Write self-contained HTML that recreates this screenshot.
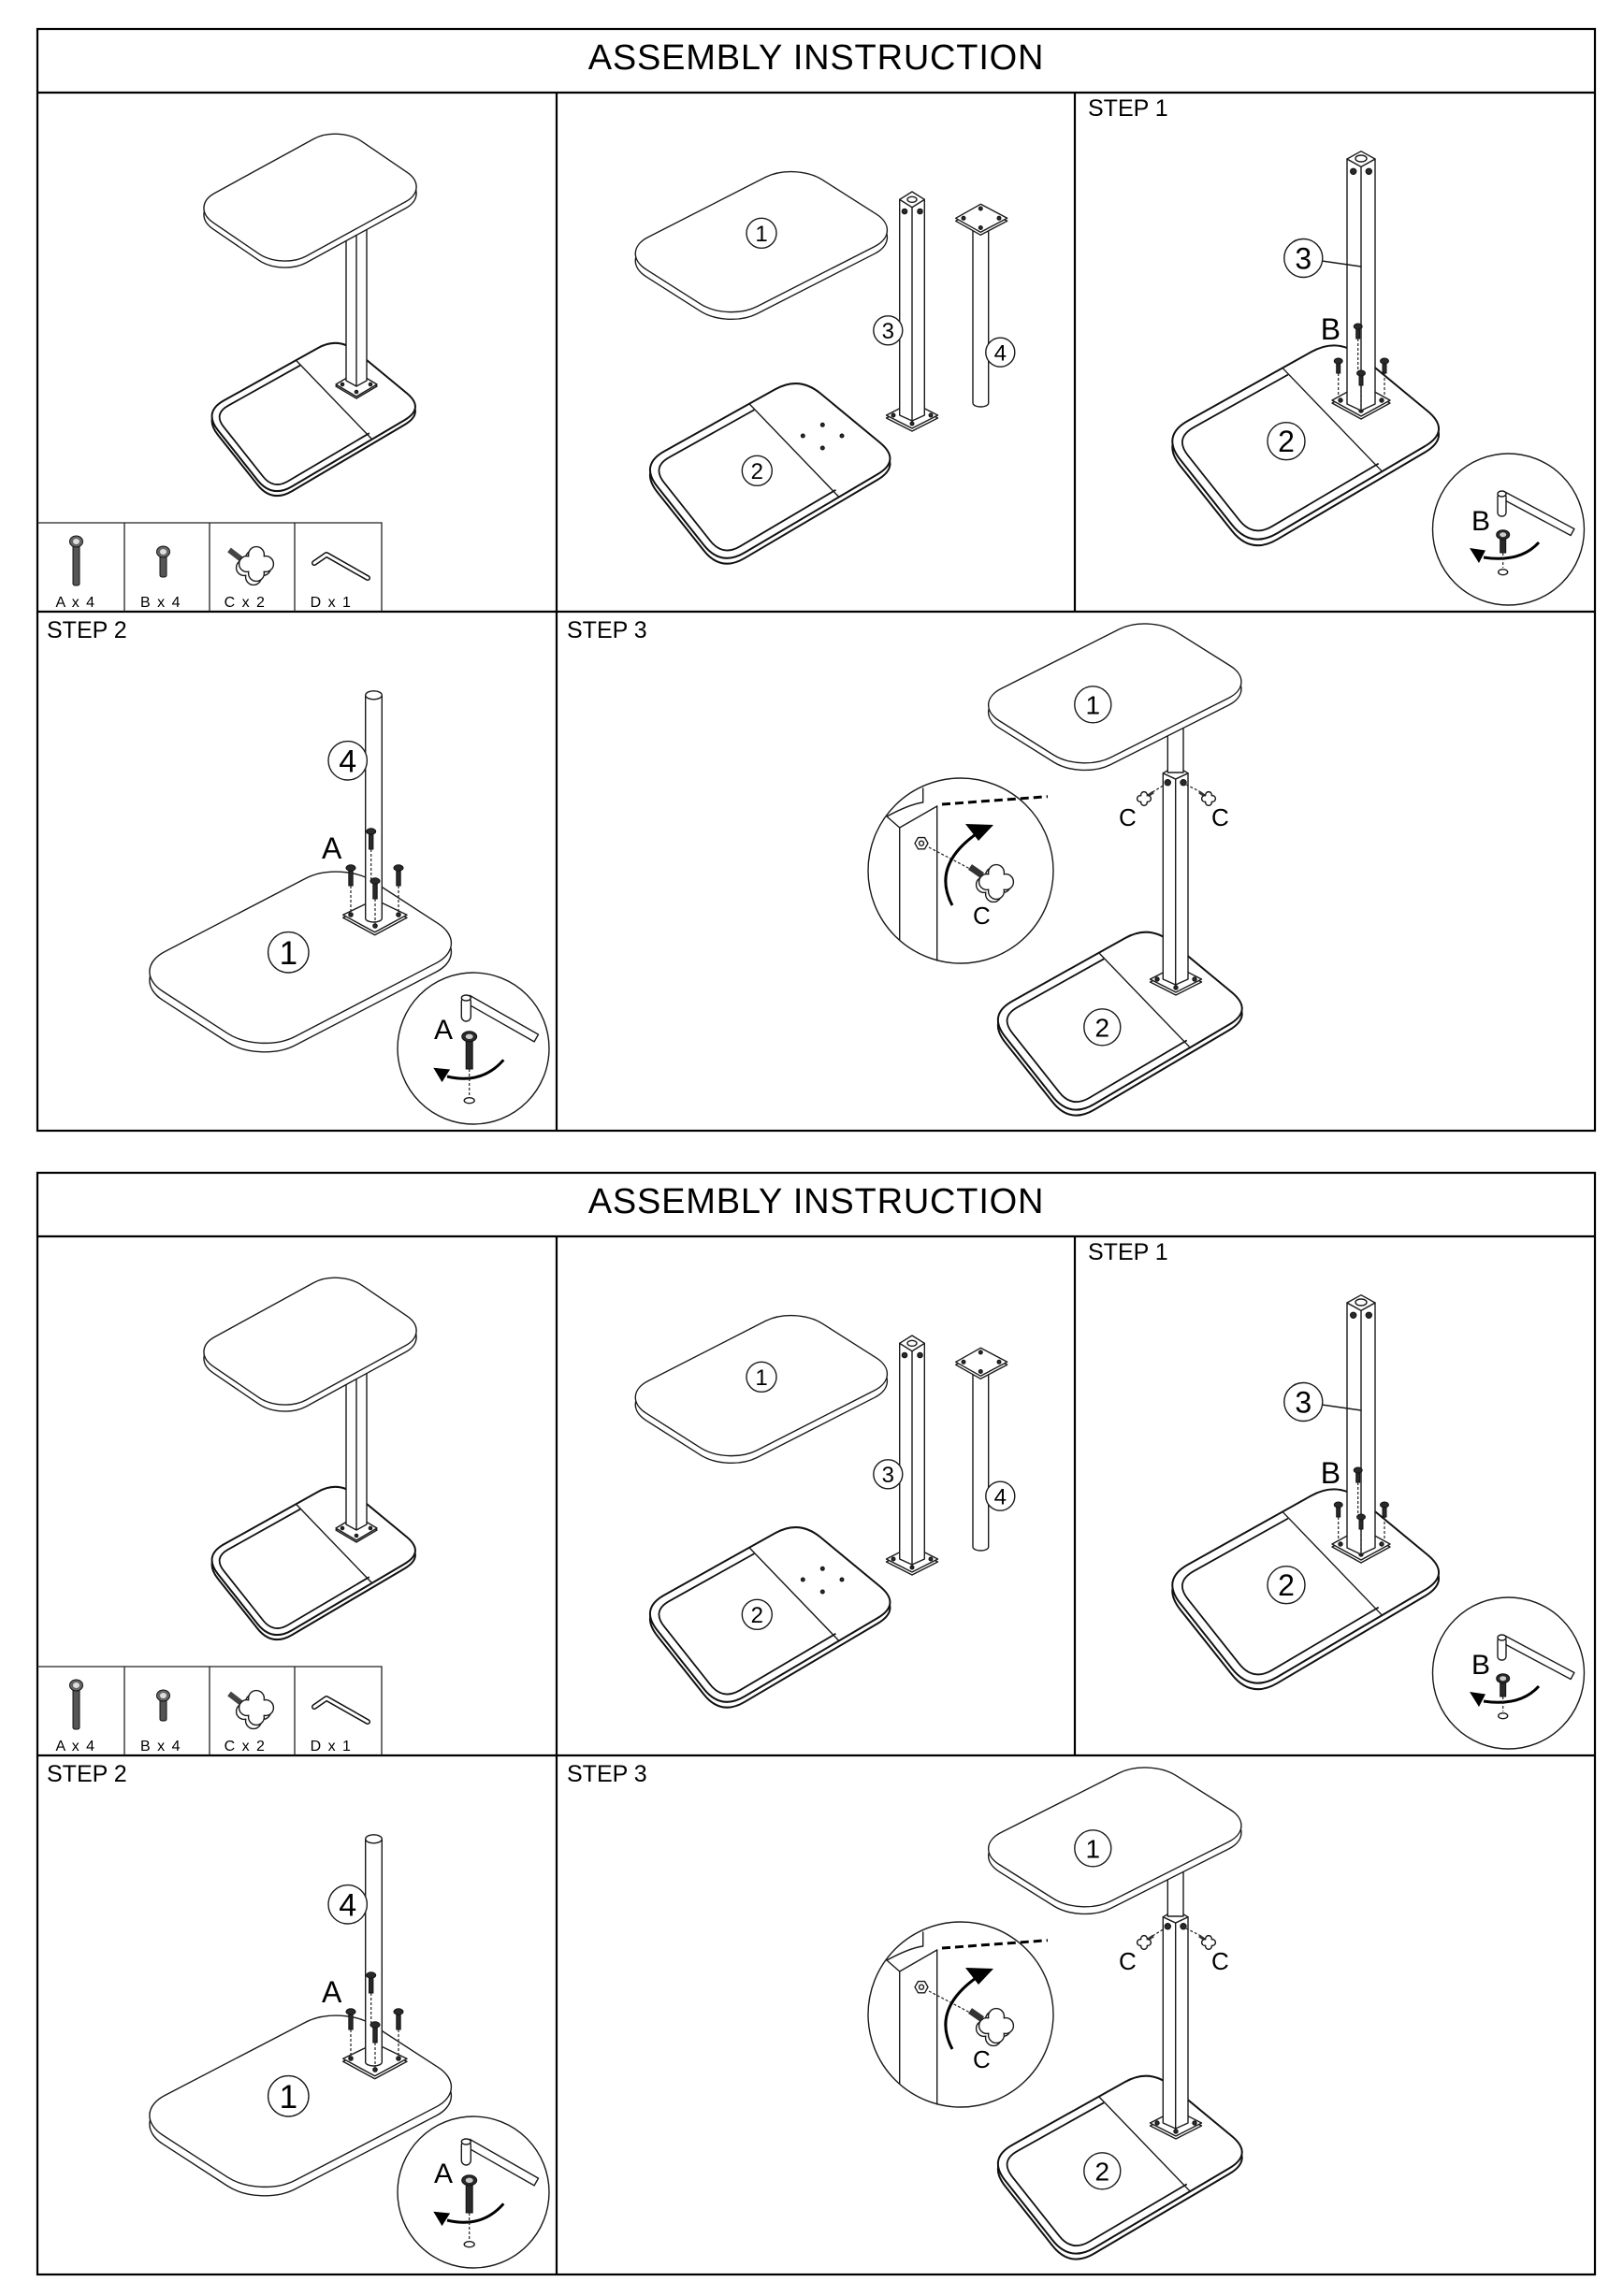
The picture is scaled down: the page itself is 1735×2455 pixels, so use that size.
<!DOCTYPE html>
<html><head><meta charset="utf-8"><style>
html,body{margin:0;padding:0;background:#fff;}
svg{display:block;}
.l{fill:none;stroke:#1a1a1a;stroke-width:1.4;vector-effect:non-scaling-stroke;stroke-linejoin:round;stroke-linecap:round}
.w{fill:#fff;stroke:#1a1a1a;stroke-width:1.4;vector-effect:non-scaling-stroke;stroke-linejoin:round}
.b{fill:#fff;stroke:#111;stroke-width:2;vector-effect:non-scaling-stroke;stroke-linejoin:round}
.bl{fill:none;stroke:#111;stroke-width:1.8;vector-effect:non-scaling-stroke}
.k{fill:#2a2a2a;stroke:#111;stroke-width:1}
.d{fill:none;stroke:#222;stroke-width:1.2;stroke-dasharray:3 2}
.f{fill:none;stroke:#000;stroke-width:2.2}
.t{fill:none;stroke:#222;stroke-width:1.3}
.ar{fill:none;stroke:#000;stroke-width:3}
text{font-family:"Liberation Sans",Arial,sans-serif;fill:#000}
</style></head><body>
<svg width="1735" height="2455" viewBox="0 0 1735 2455" xmlns="http://www.w3.org/2000/svg">
<defs>
<g id="top">
 <rect class="w" vector-effect="non-scaling-stroke" width="181" height="119" rx="30" transform="translate(0,7) matrix(0.877,-0.48,0.826,0.564,203,221)"/>
 <rect class="w" vector-effect="non-scaling-stroke" width="181" height="119" rx="30" transform="matrix(0.877,-0.48,0.826,0.564,203,221)"/>
</g>
<g id="base">
 <path class="b" vector-effect="non-scaling-stroke" transform="translate(0,5)" d="M239.3,428.3L339.9,372.1Q361.7,359.9 381,375.9L434.8,420.4Q454.1,436.4 432.6,449.1L312.2,520.1Q290.7,532.8 275.2,513.2L233,460.1Q217.5,440.5 239.3,428.3Z"/>
 <path class="b" vector-effect="non-scaling-stroke" d="M239.3,428.3L339.9,372.1Q361.7,359.9 381,375.9L434.8,420.4Q454.1,436.4 432.6,449.1L312.2,520.1Q290.7,532.8 275.2,513.2L233,460.1Q217.5,440.5 239.3,428.3Z"/>
 <path class="bl" vector-effect="non-scaling-stroke" d="M320.9,390.7L243.8,433.8Q228.1,442.6 239.3,456.7L281.2,509.5Q292.4,523.6 307.9,514.5L394.8,463.2"/>
 <path class="l" vector-effect="non-scaling-stroke" d="M316.7,385.5L397,469"/>
</g>
<path id="clv" class="w" vector-effect="non-scaling-stroke" d="M0.41,-0.41A0.42,0.42 0 1 1 0.41,0.41A0.42,0.42 0 1 1 -0.41,0.41A0.42,0.42 0 1 1 -0.41,-0.41A0.42,0.42 0 1 1 0.41,-0.41Z"/>
<g id="sb"><rect x="-2" y="0" width="4" height="13" class="k"/><ellipse cx="0" cy="0" rx="4.5" ry="3" class="k"/></g>
<g id="sa"><rect x="-2.2" y="0" width="4.4" height="19" class="k"/><ellipse cx="0" cy="0" rx="5" ry="3.2" class="k"/></g>
</defs>

<g id="p">
 <!-- frame -->
 <rect x="40" y="31" width="1665" height="1178" class="f"/>
 <line x1="40" y1="99" x2="1705" y2="99" class="f"/>
 <line x1="40" y1="654" x2="1705" y2="654" class="f"/>
 <line x1="595" y1="99" x2="595" y2="1209" class="f"/>
 <line x1="1149" y1="99" x2="1149" y2="654" class="f"/>
 <!-- parts table -->
 <path class="t" d="M40,559H408V654M133,559V654M224,559V654M315,559V654"/>
 <rect x="78" y="583" width="7" height="43" rx="2" fill="#555" stroke="#111" stroke-width="1"/>
 <ellipse cx="81.5" cy="579" rx="7" ry="6" fill="#666" stroke="#111" stroke-width="1"/>
 <ellipse cx="81.5" cy="579" rx="3.5" ry="3" fill="#ddd"/>
 <rect x="171" y="593" width="7" height="24" rx="2" fill="#555" stroke="#111" stroke-width="1"/>
 <ellipse cx="174.5" cy="590" rx="7" ry="6" fill="#666" stroke="#111" stroke-width="1"/>
 <ellipse cx="174.5" cy="590" rx="3.5" ry="3" fill="#ddd"/>
 <line x1="245" y1="588" x2="258" y2="598" stroke="#444" stroke-width="6"/>
 <use href="#clv" transform="translate(271,607) scale(20)"/>
 <use href="#clv" transform="translate(274,603) scale(20)"/>
 <path d="M336,602L349,593L393,618" fill="none" stroke="#111" stroke-width="6" stroke-linecap="round" stroke-linejoin="round"/>
 <path d="M336,602L349,593L393,618" fill="none" stroke="#fff" stroke-width="3" stroke-linecap="round" stroke-linejoin="round"/>

 <!-- cell 1 assembled -->
 <use href="#base"/>
 <path class="w" d="M359,413L381,400L403,413L381,426Z"/>
 <path class="w" d="M359,411L381,398L403,411L381,424Z"/>
 <circle cx="366" cy="411" r="1.8" class="k"/><circle cx="396" cy="411" r="1.8" class="k"/><circle cx="381" cy="419" r="1.8" class="k"/>
 <path class="w" d="M370,232V407L381,413L392,407V232Z"/>
 <line x1="381" y1="232" x2="381" y2="413" class="l"/>
 <use href="#top"/>

 <!-- cell 2 parts -->
 <use href="#base" transform="translate(427.6,-22.8) scale(1.18)"/>
 <circle cx="879.3" cy="454.3" r="2" class="k"/><circle cx="858.3" cy="466" r="2" class="k"/><circle cx="900" cy="466" r="2" class="k"/><circle cx="879.3" cy="479" r="2" class="k"/>
 <use href="#top" transform="translate(421,25.3) scale(1.185,1.105)"/>
 <path class="w" d="M947.5,447L975,433L1002.5,447L975,461Z"/>
 <path class="w" d="M947.5,444L975,430L1002.5,444L975,458Z"/>
 <circle cx="955" cy="444" r="2" class="k"/><circle cx="995" cy="444" r="2" class="k"/><circle cx="975" cy="453" r="2" class="k"/>
 <path class="w" d="M961.7,213.3V444L975,450L988.3,444V213.3L975,221.7Z"/>
 <line x1="975" y1="221.7" x2="975" y2="450" class="l"/>
 <path class="w" d="M961.7,213.3L975,205L988.3,213.3L975,221.7Z"/>
 <ellipse cx="975" cy="213.3" rx="5" ry="3" class="w"/>
 <circle cx="967" cy="226" r="2.8" class="k"/><circle cx="983.5" cy="226" r="2.8" class="k"/>
 <path class="w" d="M1040,240V431A8.35,4 0 0 0 1056.7,431V240Z"/>
 <path class="w" d="M1021.7,236.3L1048.3,221.3L1076.7,236.3L1048.3,251.3Z"/>
 <path class="w" d="M1021.7,233.3L1048.3,218.3L1076.7,233.3L1048.3,248.3Z"/>
 <circle cx="1030" cy="233.3" r="2" class="k"/><circle cx="1068" cy="233.3" r="2" class="k"/><circle cx="1048.3" cy="223" r="2" class="k"/><circle cx="1048.3" cy="243.5" r="2" class="k"/>
 <circle cx="814" cy="249.3" r="16" class="w"/>
 <circle cx="809.3" cy="503.3" r="16" class="w"/>
 <circle cx="949.3" cy="353.3" r="15.5" class="w"/>
 <circle cx="1069.3" cy="376.7" r="15.5" class="w"/>

 <!-- cell 3 step 1 -->
 <use href="#base" transform="translate(956.5,-111.2) scale(1.31)"/>
 <path class="w" d="M1424,431L1455,414L1486,431L1455,448Z"/>
 <path class="w" d="M1424,428L1455,411L1486,428L1455,445Z"/>
 <circle cx="1433" cy="428" r="2.2" class="k"/><circle cx="1477" cy="428" r="2.2" class="k"/><circle cx="1455" cy="439" r="2.2" class="k"/>
 <path class="w" d="M1440,170V432L1455,439L1470,432V170L1455,178.3Z"/>
 <line x1="1455" y1="178.3" x2="1455" y2="439" class="l"/>
 <path class="w" d="M1440,170L1455,161.7L1470,170L1455,178.3Z"/>
 <ellipse cx="1455" cy="169.5" rx="6" ry="3.5" class="w"/>
 <circle cx="1446.7" cy="183.3" r="3.2" class="k"/><circle cx="1463.3" cy="183.3" r="3.2" class="k"/>
 <line x1="1451.7" y1="362" x2="1451.7" y2="398" class="d"/>
 <line x1="1430.7" y1="399" x2="1430.7" y2="425" class="d"/>
 <line x1="1480" y1="399" x2="1480" y2="424" class="d"/>
 <line x1="1455" y1="412" x2="1455" y2="438" class="d"/>
 <use href="#sb" transform="translate(1451.7,349)"/>
 <use href="#sb" transform="translate(1430.7,386)"/>
 <use href="#sb" transform="translate(1480,386)"/>
 <use href="#sb" transform="translate(1455,399)"/>
 <path class="l" d="M1413,279L1455,285"/>
 <circle cx="1393.3" cy="276" r="20.5" class="w"/>
 <circle cx="1375" cy="471.7" r="20" class="w"/>
 <!-- inset B -->
 <circle cx="1612.5" cy="566" r="81" class="w"/>
 <polygon class="w" points="1607.9,525.5 1682.9,565.5 1679.1,572.5 1604.1,532.5"/>
 <rect class="w" x="1601" y="527" width="9" height="25" rx="4"/>
 <ellipse class="w" cx="1605.5" cy="528" rx="4.5" ry="3"/>
 <rect x="1603.7" y="576" width="6" height="15" class="k"/>
 <ellipse cx="1606.7" cy="571.7" rx="7" ry="5" class="k"/>
 <ellipse cx="1606.7" cy="571.7" rx="3.5" ry="2.5" fill="#ccc"/>
 <path class="ar" d="M1645,580Q1625,602 1586,596"/>
 <polygon points="1571,586 1588,588.5 1581,602" fill="#000"/>
 <line x1="1606.7" y1="591" x2="1606.7" y2="607" class="d"/>
 <ellipse cx="1606.7" cy="611.7" rx="5" ry="3" class="w"/>

 <!-- step 2 -->
 <use href="#top" transform="translate(-149.6,738.7) scale(1.42,1.35)"/>
 <path class="w" d="M366.7,981.3L400.7,964.7L435,981.3L400.7,999.7Z"/>
 <path class="w" d="M366.7,978.3L400.7,961.7L435,978.3L400.7,996.7Z"/>
 <circle cx="375" cy="978" r="2.3" class="k"/><circle cx="426" cy="978" r="2.3" class="k"/><circle cx="401" cy="990" r="2.3" class="k"/>
 <path class="w" d="M390.7,743.3V982A8.8,4 0 0 0 408.3,982V743.3Z"/>
 <ellipse cx="399.5" cy="743.3" rx="8.8" ry="4.5" class="w"/>
 <line x1="396.7" y1="908" x2="396.7" y2="940" class="d"/>
 <line x1="375" y1="947" x2="375" y2="975" class="d"/>
 <line x1="426" y1="947" x2="426" y2="975" class="d"/>
 <line x1="401" y1="961" x2="401" y2="988" class="d"/>
 <use href="#sa" transform="translate(396.7,889)"/>
 <use href="#sa" transform="translate(375,928)"/>
 <use href="#sa" transform="translate(426,928)"/>
 <use href="#sa" transform="translate(401,942)"/>
 <circle cx="371.7" cy="813.3" r="20.7" class="w"/>
 <circle cx="308.3" cy="1018.3" r="21.7" class="w"/>
 <!-- inset A -->
 <circle cx="506" cy="1121" r="81" class="w"/>
 <polygon class="w" points="502.2,1064.4 575.5,1106.1 571.1,1113.9 497.8,1072.2"/>
 <rect class="w" x="493.3" y="1066" width="10" height="26" rx="5"/>
 <ellipse class="w" cx="498.3" cy="1067" rx="5" ry="3"/>
 <rect x="498.2" y="1113" width="7" height="30" class="k"/>
 <ellipse cx="501.7" cy="1108.3" rx="8" ry="5.5" class="k"/>
 <ellipse cx="501.7" cy="1108.3" rx="4" ry="2.7" fill="#ccc"/>
 <path class="ar" d="M538.3,1133.3Q515,1160 478,1151"/>
 <polygon points="463.3,1141.7 481.1,1143.5 472.5,1157.1" fill="#000"/>
 <line x1="501.7" y1="1143" x2="501.7" y2="1172" class="d"/>
 <ellipse cx="501.7" cy="1176.7" rx="5.5" ry="3" class="w"/>

 <!-- step 3 -->
 <use href="#base" transform="translate(795,556.5) scale(1.2)"/>
 <path class="w" d="M1229.5,1050L1257,1036L1284.5,1050L1257,1064Z"/>
 <path class="w" d="M1229.5,1047L1257,1033L1284.5,1047L1257,1061Z"/>
 <circle cx="1237" cy="1047" r="2.2" class="k"/><circle cx="1277" cy="1047" r="2.2" class="k"/><circle cx="1257" cy="1056" r="2.2" class="k"/>
 <path class="w" d="M1243.3,826.7V1047L1256.7,1053L1270,1047V826.7L1256.7,833Z"/>
 <line x1="1256.7" y1="833" x2="1256.7" y2="1053" class="l"/>
 <path class="w" d="M1243.3,826.7L1256.7,819L1270,826.7L1256.7,833Z"/>
 <rect class="w" x="1248.3" y="770" width="16.7" height="56"/>
 <circle cx="1248.3" cy="836.7" r="3.2" class="k"/><circle cx="1265" cy="836.7" r="3.2" class="k"/>
 <use href="#top" transform="translate(797.3,510) scale(1.19,1.096)"/>
 <line x1="1232" y1="847" x2="1245" y2="839" class="d"/>
 <line x1="1284" y1="847" x2="1268" y2="839" class="d"/>
 <line x1="1227" y1="851" x2="1233" y2="847" stroke="#333" stroke-width="3"/>
 <line x1="1288" y1="851" x2="1282" y2="847" stroke="#333" stroke-width="3"/>
 <use href="#clv" transform="translate(1223,854) scale(8)"/>
 <use href="#clv" transform="translate(1292,854) scale(8)"/>
 <circle cx="1168.3" cy="753.3" r="19.5" class="w"/>
 <circle cx="1178.3" cy="1098.3" r="19.5" class="w"/>
 <!-- inset C -->
 <circle cx="1027" cy="931" r="99" class="w"/>
 <path class="l" d="M948,873L961.7,885L1001.7,862"/>
 <path class="l" d="M961.7,885V1005M1001.7,862V1027"/>
 <path class="l" d="M948,873Q972,860 986.7,858V843"/>
 <polygon class="w" points="992,901.7 988.5,907.8 981.5,907.8 978,901.7 981.5,895.6 988.5,895.6"/>
 <circle cx="985" cy="901.7" r="2.5" class="w"/>
 <line x1="993" y1="906" x2="1037" y2="929" class="d"/>
 <line x1="1037" y1="927" x2="1050" y2="936" stroke="#333" stroke-width="7"/>
 <use href="#clv" transform="translate(1062,946) scale(20)"/>
 <use href="#clv" transform="translate(1065,943) scale(20)"/>
 <path class="ar" d="M1018,968Q995,925 1046,890"/>
 <polygon points="1062,882 1032,881 1046,899" fill="#000"/>
 <line x1="1007" y1="860" x2="1120" y2="851.7" stroke="#000" stroke-width="3" stroke-dasharray="9 5"/>
</g>

<use href="#p" transform="translate(0,1223)"/>

<g>
 <text x="872.5" y="74" font-size="38" text-anchor="middle" letter-spacing="0.8">ASSEMBLY INSTRUCTION</text>
 <text x="1163" y="124" font-size="25">STEP 1</text>
 <text x="50" y="682" font-size="25">STEP 2</text>
 <text x="606" y="682" font-size="25">STEP 3</text>
 <text x="81" y="649" font-size="16" text-anchor="middle" letter-spacing="1.5">A x 4</text>
 <text x="172" y="649" font-size="16" text-anchor="middle" letter-spacing="1.5">B x 4</text>
 <text x="262" y="649" font-size="16" text-anchor="middle" letter-spacing="1.5">C x 2</text>
 <text x="354" y="649" font-size="16" text-anchor="middle" letter-spacing="1.5">D x 1</text>
 <text x="814" y="258" font-size="24" text-anchor="middle">1</text>
 <text x="809.3" y="512" font-size="24" text-anchor="middle">2</text>
 <text x="949.3" y="362" font-size="24" text-anchor="middle">3</text>
 <text x="1069.3" y="385.5" font-size="24" text-anchor="middle">4</text>
 <text x="1393.3" y="287.5" font-size="32" text-anchor="middle">3</text>
 <text x="1375" y="483" font-size="32" text-anchor="middle">2</text>
 <text x="1411.7" y="363" font-size="32">B</text>
 <text x="1573" y="567" font-size="30">B</text>
 <text x="371.7" y="825.5" font-size="34" text-anchor="middle">4</text>
 <text x="308.3" y="1031" font-size="35" text-anchor="middle">1</text>
 <text x="344" y="918" font-size="32">A</text>
 <text x="464" y="1111" font-size="30">A</text>
 <text x="1168.3" y="763.4" font-size="28" text-anchor="middle">1</text>
 <text x="1178.3" y="1108.4" font-size="28" text-anchor="middle">2</text>
 <text x="1196" y="883" font-size="26">C</text>
 <text x="1295" y="883" font-size="26">C</text>
 <text x="1040" y="988" font-size="26">C</text>
</g>
<g transform="translate(0,1223)">
 <text x="872.5" y="74" font-size="38" text-anchor="middle" letter-spacing="0.8">ASSEMBLY INSTRUCTION</text>
 <text x="1163" y="124" font-size="25">STEP 1</text>
 <text x="50" y="682" font-size="25">STEP 2</text>
 <text x="606" y="682" font-size="25">STEP 3</text>
 <text x="81" y="649" font-size="16" text-anchor="middle" letter-spacing="1.5">A x 4</text>
 <text x="172" y="649" font-size="16" text-anchor="middle" letter-spacing="1.5">B x 4</text>
 <text x="262" y="649" font-size="16" text-anchor="middle" letter-spacing="1.5">C x 2</text>
 <text x="354" y="649" font-size="16" text-anchor="middle" letter-spacing="1.5">D x 1</text>
 <text x="814" y="258" font-size="24" text-anchor="middle">1</text>
 <text x="809.3" y="512" font-size="24" text-anchor="middle">2</text>
 <text x="949.3" y="362" font-size="24" text-anchor="middle">3</text>
 <text x="1069.3" y="385.5" font-size="24" text-anchor="middle">4</text>
 <text x="1393.3" y="287.5" font-size="32" text-anchor="middle">3</text>
 <text x="1375" y="483" font-size="32" text-anchor="middle">2</text>
 <text x="1411.7" y="363" font-size="32">B</text>
 <text x="1573" y="567" font-size="30">B</text>
 <text x="371.7" y="825.5" font-size="34" text-anchor="middle">4</text>
 <text x="308.3" y="1031" font-size="35" text-anchor="middle">1</text>
 <text x="344" y="918" font-size="32">A</text>
 <text x="464" y="1111" font-size="30">A</text>
 <text x="1168.3" y="763.4" font-size="28" text-anchor="middle">1</text>
 <text x="1178.3" y="1108.4" font-size="28" text-anchor="middle">2</text>
 <text x="1196" y="883" font-size="26">C</text>
 <text x="1295" y="883" font-size="26">C</text>
 <text x="1040" y="988" font-size="26">C</text>
</g>
</svg>
</body></html>
